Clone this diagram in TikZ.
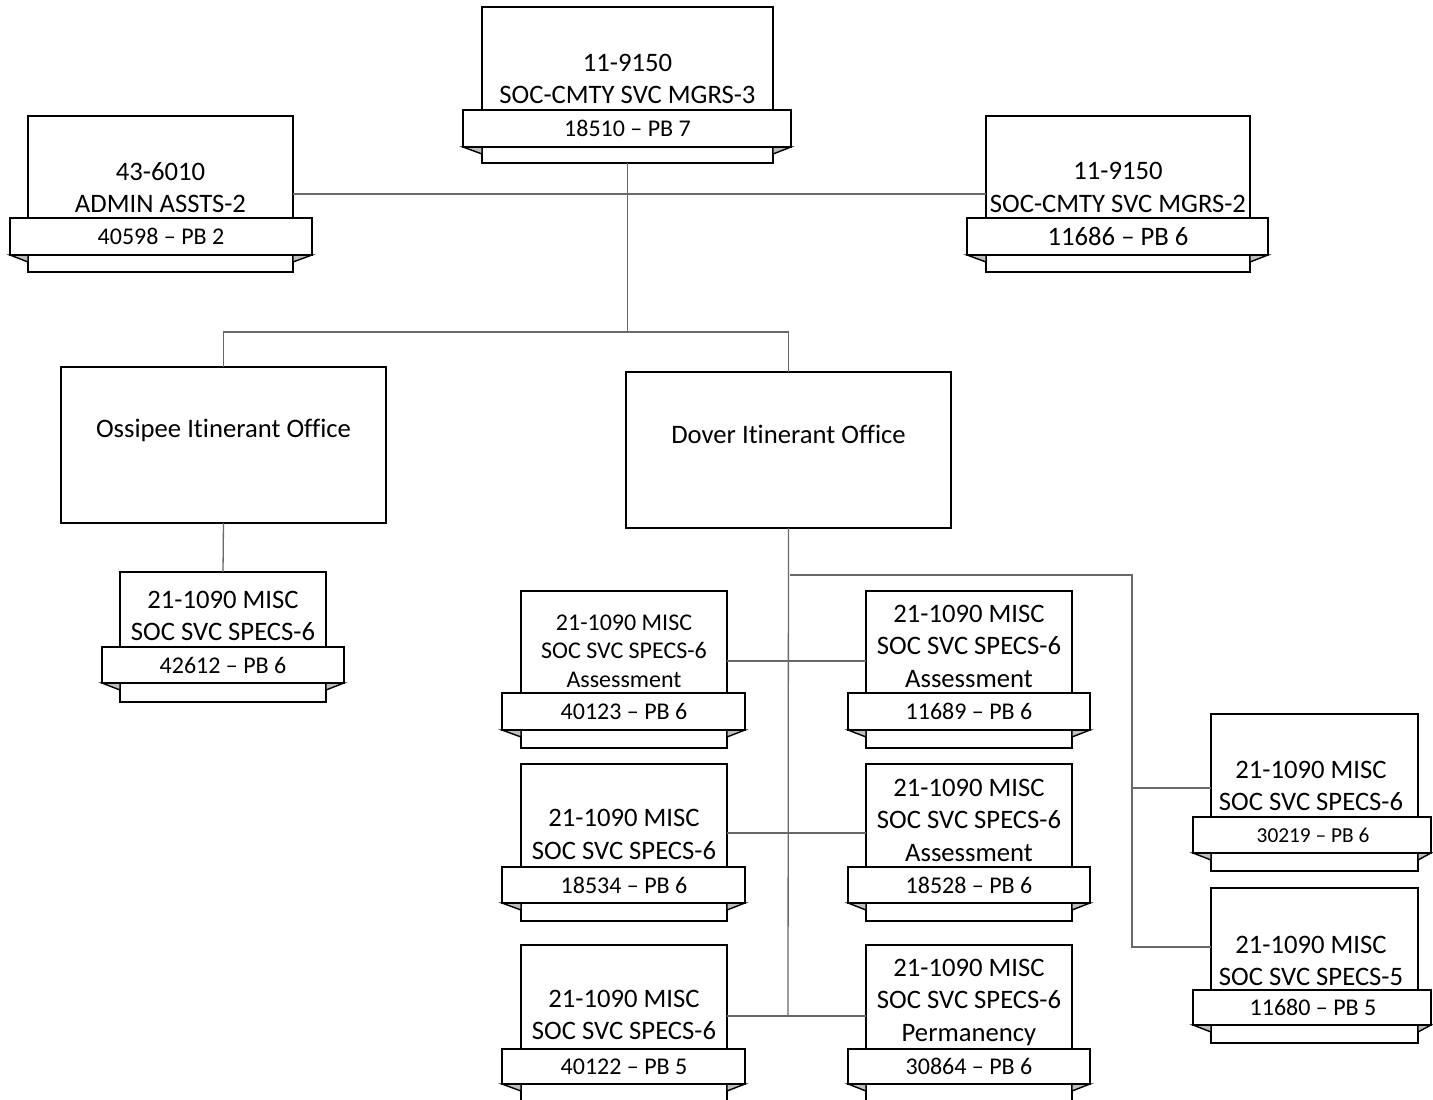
\documentclass[tikz,border=0pt]{standalone}
\usepackage{fontspec}
\setmainfont{Carlito}[Ligatures=CommonOff]
\definecolor{connc}{RGB}{105,105,105}
\definecolor{foldc}{RGB}{190,190,190}
\tikzset{
  mainrect/.style={draw=black, fill=white, line width=2pt, rectangle, inner sep=0pt, outer sep=0pt},
  bannerrect/.style={draw=black, fill=white, line width=2pt, rectangle, inner sep=0pt, outer sep=0pt},
  foldtri/.style={fill=foldc, draw=black, line width=1.4pt, line join=miter},
  conn/.style={draw=connc, line width=1.3pt},
  bigtxt/.style={font=\fontsize{26.67}{32.5}\selectfont, align=center, inner sep=0pt},
  midtxt/.style={font=\fontsize{24}{28.6}\selectfont, align=center, inner sep=0pt},
  smalltxt/.style={font=\fontsize{21.33}{26}\selectfont, align=center, inner sep=0pt},
}
% #1 name, #2 main left, #3 main right, #4 main top, #5 main bottom,
% #6 banner left, #7 banner right, #8 banner top, #9 banner bottom
\newcommand\ribbonbox[9]{%
  \node[mainrect, minimum width={#3-#2}, minimum height={#5-#4}] (#1) at ({(#2+#3)/2},{(#4+#5)/2}) {};
  \filldraw[foldtri] (#6,#9) -- (#2,{#9+7}) -- (#2,#9) -- cycle;
  \filldraw[foldtri] (#7,#9) -- (#3,{#9+7}) -- (#3,#9) -- cycle;
  \node[bannerrect, minimum width={#7-#6}, minimum height={#9-#8}] (#1b) at ({(#6+#7)/2},{(#8+#9)/2}) {};
}
\begin{document}
\begin{tikzpicture}[x=1pt, y=-1pt]
\useasboundingbox[fill=white] (0,0) rectangle (1433,1100);

% boxes
\ribbonbox{top}{482}{773}{7}{163}{463}{791}{110}{147}
\ribbonbox{adm}{28}{293}{116}{272}{10}{312}{218}{255}
\ribbonbox{mgr}{986}{1250}{116}{272}{967}{1268}{218}{255}
\node[mainrect, minimum width=325, minimum height=156] (oss) at (223.5,445) {};
\node[mainrect, minimum width=325, minimum height=156] (dov) at (788.5,450) {};
\ribbonbox{ossc}{120}{326}{572}{702}{102}{344}{647}{683}
\ribbonbox{la}{521}{727}{591}{748}{502}{745}{693}{730}
\ribbonbox{ra}{866}{1072}{591}{748}{848}{1090}{693}{730}
\ribbonbox{lb}{521}{727}{764}{921}{502}{745}{867}{903}
\ribbonbox{rb}{866}{1072}{764}{921}{848}{1090}{867}{903}
\ribbonbox{lc}{521}{727}{945}{1102}{502}{745}{1049}{1084}
\ribbonbox{rc}{866}{1072}{945}{1102}{848}{1090}{1049}{1084}
\ribbonbox{fa}{1211}{1418}{714}{871}{1193}{1431}{817}{853}
\ribbonbox{fb}{1211}{1418}{888}{1043}{1193}{1431}{990}{1025}

% junction coordinates
\coordinate (jt) at (627.5,332);
\coordinate (h1) at (788,661);
\coordinate (h2) at (788,833);
\coordinate (h3) at (788,1016);
\coordinate (sa) at (790,575);
\coordinate (sb) at (1132,575);
\coordinate (sc) at (1132,788);
\coordinate (sd) at (1132,947);

% connectors
\draw[conn] (adm.east) -- (mgr.west);
\draw[conn] (top.south) -- (jt);
\draw[conn] (oss.north) -- (oss.north |- jt) -- (dov.north |- jt) -- (dov.north);
\draw[conn] (oss.south) -- (ossc.north);
\draw[conn] (dov.south) -- (h3);
\draw[conn] (h1 -| la.east) -- (h1 -| ra.west);
\draw[conn] (h2 -| lb.east) -- (h2 -| rb.west);
\draw[conn] (h3 -| lc.east) -- (h3 -| rc.west);
\draw[conn] (sa) -- (sb) -- (sd) -- (sd -| fb.west);
\draw[conn] (sc) -- (sc -| fa.west);

% texts
\node[bigtxt] (topt) at (627.5,79) {11-9150\\SOC-CMTY SVC MGRS-3};
\node[midtxt] (topbt) at (627.5,128.5) {18510 – PB 7};
\node[bigtxt] (admt) at (160.5,187.5) {43-6010\\ADMIN ASSTS-2};
\node[midtxt] (admbt) at (161,236.5) {40598 – PB 2};
\node[bigtxt] (mgrt) at (1118,187.5) {11-9150\\SOC-CMTY SVC MGRS-2};
\node[bigtxt] (mgrbt) at (1118,236.5) {11686 – PB 6};
\node[bigtxt] (osst) at (223.5,430) {Ossipee Itinerant Office};
\node[bigtxt] (dovt) at (788.5,434) {Dover Itinerant Office};
\node[bigtxt] (ossct) at (223,616) {21-1090 MISC\\SOC SVC SPECS-6};
\node[midtxt] (osscbt) at (223,665) {42612 – PB 6};
\node[midtxt] (lat) at (624,651) {21-1090 MISC\\SOC SVC SPECS-6\\Assessment};
\node[midtxt] (labt) at (624,711.5) {40123 – PB 6};
\node[bigtxt] (rat) at (969,646) {21-1090 MISC\\SOC SVC SPECS-6\\Assessment};
\node[midtxt] (rabt) at (969,711.5) {11689 – PB 6};
\node[bigtxt] (lbt) at (624,834.5) {21-1090 MISC\\SOC SVC SPECS-6};
\node[midtxt] (lbbt) at (624,885) {18534 – PB 6};
\node[bigtxt] (rbt) at (969,820) {21-1090 MISC\\SOC SVC SPECS-6\\Assessment};
\node[midtxt] (rbbt) at (969,885) {18528 – PB 6};
\node[bigtxt] (lct) at (624,1015) {21-1090 MISC\\SOC SVC SPECS-6};
\node[midtxt] (lcbt) at (624,1066.5) {40122 – PB 5};
\node[bigtxt] (rct) at (969,1002) {21-1090 MISC\\SOC SVC SPECS-6\\Permanency};
\node[midtxt] (rcbt) at (969,1066.5) {30864 – PB 6};
\node[bigtxt] (fat) at (1311,786) {21-1090 MISC\\SOC SVC SPECS-6};
\node[smalltxt] (fabt) at (1313,835) {30219 – PB 6};
\node[bigtxt] (fbt) at (1311,961) {21-1090 MISC\\SOC SVC SPECS-5};
\node[midtxt] (fbbt) at (1313,1007.5) {11680 – PB 5};
\end{tikzpicture}
\end{document}
